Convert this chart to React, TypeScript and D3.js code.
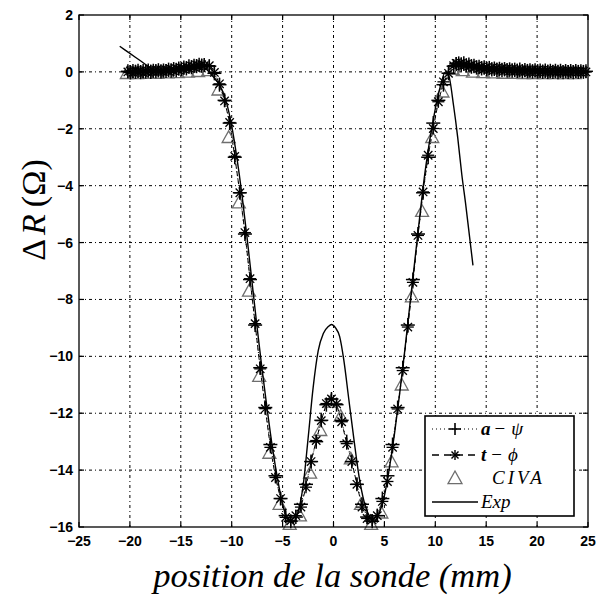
import React from "react";
import * as d3 from "d3";

// ---------- data ----------
const xTicks = [-25, -20, -15, -10, -5, 0, 5, 10, 15, 20, 25];
const yTicks = [2, 0, -2, -4, -6, -8, -10, -12, -14, -16];

// simulation (a-psi), left flat part, step 0.25 from -20.2
const simLeftStart = -20.2;
const aLeftFlat = [0.02, -0.02, 0.03, 0, 0.04, -0.01, 0.03, 0.01, 0.05, 0, 0.04, 0.02, 0.06, 0.01, 0.05, 0.03, 0.08, 0.04, 0.1, 0.06, 0.12, 0.1, 0.15, 0.12, 0.2, 0.16, 0.22, 0.2, 0.25, 0.22, 0.24];
const tLeftFlat = [0.0, 0.03, -0.01, 0.04, 0.0, 0.03, -0.02, 0.04, 0.01, 0.05, 0.01, 0.06, 0.02, 0.05, 0.02, 0.07, 0.03, 0.09, 0.05, 0.11, 0.08, 0.13, 0.11, 0.17, 0.14, 0.2, 0.18, 0.24, 0.21, 0.25, 0.22];
// dip part, step 0.5 from -12.2
const dipStart = -12.2;
const aDip = [0.2, -0.05, -0.45, -1.0, -1.8, -3.0, -4.25, -5.7, -7.3, -8.9, -10.4, -11.8, -13.1, -14.2, -15.0, -15.6, -15.8, -15.65, -15.2, -14.5, -13.7, -13.0, -12.25, -11.7, -11.5, -11.7, -12.25, -13.0, -13.7, -14.5, -15.2, -15.65, -15.8, -15.6, -15.0, -14.2, -13.1, -11.8, -10.4, -8.9, -7.3, -5.7, -4.25, -3.0, -1.8, -1.0, -0.45, -0.05, 0.2];
const tDip = [0.22, -0.02, -0.42, -1.02, -1.78, -2.97, -4.25, -5.65, -7.27, -8.85, -10.44, -11.84, -13.2, -14.26, -15.0, -15.66, -15.78, -15.6, -15.3, -14.6, -13.7, -12.96, -12.26, -11.66, -11.5, -11.67, -12.3, -13.07, -13.7, -14.5, -15.3, -15.7, -15.75, -15.6, -15.1, -14.4, -13.2, -11.85, -10.5, -8.97, -7.4, -5.75, -4.22, -2.93, -1.99, -1.05, -0.35, -0.05, 0.22];
// right flat part, step 0.25 from 12.05
const simRightStart = 12.05;
const aRightFlat = [0.28, 0.3, 0.25, 0.3, 0.22, 0.26, 0.18, 0.22, 0.15, 0.18, 0.12, 0.16, 0.1, 0.14, 0.08, 0.12, 0.07, 0.11, 0.06, 0.1, 0.05, 0.09, 0.04, 0.08, 0.03, 0.08, 0.02, 0.07, 0.02, 0.06, 0.01, 0.06, 0.01, 0.05, 0, 0.05, 0, 0.04, 0, 0.04, -0.01, 0.04, -0.01, 0.03, 0, 0.03, -0.01, 0.03, 0, 0.02, 0, 0.02];
const tRightFlat = [0.3, 0.26, 0.3, 0.24, 0.27, 0.2, 0.24, 0.16, 0.2, 0.13, 0.17, 0.11, 0.15, 0.09, 0.13, 0.07, 0.12, 0.06, 0.11, 0.05, 0.1, 0.04, 0.09, 0.03, 0.08, 0.03, 0.07, 0.02, 0.07, 0.01, 0.06, 0.01, 0.06, 0.0, 0.05, 0.0, 0.05, -0.01, 0.04, -0.01, 0.04, 0.0, 0.03, -0.01, 0.03, 0.0, 0.03, 0.0, 0.02, 0.0, 0.02, 0.0];

// CIVA, step 1 from -20.3
const civaStart = -20.3;
const civaY = [-0.05, -0.05, -0.04, -0.04, -0.03, -0.02, 0.0, 0.02, 0.05, -0.63, -2.3, -4.6, -7.7, -10.7, -13.4, -15.2, -15.9, -15.6, -14.1, -12.6, -11.6, -12.1, -13.6, -15.2, -15.9, -15.5, -13.7, -11.0, -7.9, -4.9, -2.3, -0.7, 0.1, 0.05, 0.0, -0.02, -0.03, -0.04, -0.04, -0.05, -0.05, -0.05, -0.05, -0.05, -0.05];

// experiment
const expX = [-21.0, -20, -19, -18, -17, -16, -15, -14, -13, -12.5, -12, -11.5, -11, -10.5, -10, -9.5, -9, -8.5, -8, -7.5, -7, -6.5, -6, -5.5, -5, -4.5, -4, -3.5, -3, -2.5, -2, -1.5, -1, -0.5, -0.2, 0.2, 0.6, 1.0, 1.5, 2.0, 2.5, 3.0, 3.5, 4.0, 4.5, 5.0, 5.5, 6.0, 6.5, 7.0, 7.5, 8.0, 8.5, 9.0, 9.5, 10.0, 10.5, 11.0, 11.3, 11.8, 12.2, 12.6, 13.0, 13.3, 13.7];
const expY = [0.9, 0.65, 0.4, 0.15, 0.02, 0, 0.02, 0.08, 0.15, 0.1, -0.1, -0.3, -0.6, -1.1, -1.9, -3.0, -4.3, -5.8, -7.4, -9.0, -10.5, -11.9, -13.2, -14.3, -15.2, -15.7, -15.85, -15.5, -14.6, -12.9, -11.1, -9.8, -9.2, -8.95, -8.88, -9.0, -9.3, -10.1, -11.5, -12.9, -14.2, -15.1, -15.6, -15.8, -15.5, -14.9, -13.9, -12.7, -11.3, -9.8, -8.2, -6.6, -5.0, -3.5, -2.3, -1.3, -0.5, 0.0, -0.1, -1.2, -2.3, -3.6, -4.7, -5.6, -6.8];

type P = [number, number];
const build = (left: number[], dip: number[], right: number[]): P[] => [
  ...left.map((v, i) => [simLeftStart + 0.25 * i, v] as P),
  ...dip.map((v, i) => [dipStart + 0.5 * i, v] as P),
  ...right.map((v, i) => [simRightStart + 0.25 * i, v] as P),
];
const aSeries = build(aLeftFlat, aDip, aRightFlat);
const tSeries = build(tLeftFlat, tDip, tRightFlat);
const civaSeries: P[] = civaY.map((v, i) => [civaStart + i, v]);
const expSeries: P[] = expX.map((x, i) => [x, expY[i]]);

// ---------- layout ----------
const W = 602, H = 603;
const L = 79, R = 588, T = 15, B = 527;
const x = d3.scaleLinear().domain([-25, 25]).range([L, R]);
const y = d3.scaleLinear().domain([-16, 2]).range([B, T]);

const tickFont = "'Liberation Sans Narrow', 'Arial Narrow', 'Liberation Sans', Arial, sans-serif";
const serif = "'Liberation Serif', 'Times New Roman', serif";

const plus = (cx: number, cy: number, s = 6, key?: any) => (
  <g key={key}>
    <line x1={cx - s} x2={cx + s} y1={cy} y2={cy} />
    <line x1={cx} x2={cx} y1={cy - s} y2={cy + s} />
  </g>
);
const star = (cx: number, cy: number, s = 5, key?: any) => (
  <g key={key}>
    <line x1={cx - s} x2={cx + s} y1={cy} y2={cy} />
    <line x1={cx - s * 0.7} x2={cx + s * 0.7} y1={cy - s * 0.7} y2={cy + s * 0.7} />
    <line x1={cx - s * 0.7} x2={cx + s * 0.7} y1={cy + s * 0.7} y2={cy - s * 0.7} />
    <line x1={cx} x2={cx} y1={cy - s} y2={cy + s} />
  </g>
);
const tri = (cx: number, cy: number, s = 6, key?: any) => (
  <path key={key} d={`M${cx},${cy - s}L${cx + s},${cy + s * 0.8}L${cx - s},${cy + s * 0.8}Z`} />
);

export default function App() {
  const lineSim = d3.line<P>().x((d) => x(d[0])).y((d) => y(d[1]));
  const lineExp = d3.line<P>().x((d) => x(d[0])).y((d) => y(d[1])).curve(d3.curveMonotoneX);
  const gridDash = "3,3,1,3";
  const tk = 5;
  const lgX = 425, lgY = 416, lgW = 149, lgH = 100;
  return (
    <svg width={W} height={H} style={{ position: "absolute", left: 0, top: 0, background: "#fff" }}>
      <rect x={0} y={0} width={W} height={H} fill="#fff" />
      {/* grid */}
      <g stroke="#000" strokeWidth={1} strokeDasharray={gridDash}>
        {xTicks.slice(1, -1).map((t) => (
          <line key={"gx" + t} x1={x(t)} x2={x(t)} y1={T} y2={B} />
        ))}
        {yTicks.slice(1, -1).map((t) => (
          <line key={"gy" + t} x1={L} x2={R} y1={y(t)} y2={y(t)} />
        ))}
      </g>
      {/* ticks */}
      <g stroke="#000" strokeWidth={1.2}>
        {xTicks.map((t) => (
          <g key={"tx" + t}>
            <line x1={x(t)} x2={x(t)} y1={B} y2={B - tk} />
            <line x1={x(t)} x2={x(t)} y1={T} y2={T + tk} />
          </g>
        ))}
        {yTicks.map((t) => (
          <g key={"ty" + t}>
            <line x1={L} x2={L + tk} y1={y(t)} y2={y(t)} />
            <line x1={R} x2={R - tk} y1={y(t)} y2={y(t)} />
          </g>
        ))}
      </g>
      {/* series */}
      <path d={lineSim(aSeries) || ""} fill="none" stroke="#000" strokeWidth={1} strokeDasharray="1,2.5" />
      <path d={lineSim(tSeries) || ""} fill="none" stroke="#000" strokeWidth={1} strokeDasharray="5,3" />
      <g fill="none" stroke="#6e6e6e" strokeWidth={1.3}>
        {civaSeries.map((d, i) => tri(x(d[0]), y(d[1]), 6.5, "c" + i))}
      </g>
      <g stroke="#000" strokeWidth={1.5}>
        {aSeries.map((d, i) => plus(x(d[0]), y(d[1]), 7, "a" + i))}
      </g>
      <g stroke="#000" strokeWidth={1.3}>
        {tSeries.map((d, i) => star(x(d[0]), y(d[1]), 6, "t" + i))}
      </g>
      <path d={lineExp(expSeries) || ""} fill="none" stroke="#000" strokeWidth={1.4} />
      {/* frame */}
      <rect x={L} y={T} width={R - L} height={B - T} fill="none" stroke="#000" strokeWidth={1.3} />
      {/* tick labels */}
      <g fontFamily={tickFont} fontWeight="bold" fontSize={14} fill="#000">
        {xTicks.map((t) => (
          <text key={"lx" + t} x={x(t)} y={B + 19} textAnchor="middle">
            {t < 0 ? "\u2212" + Math.abs(t) : String(t)}
          </text>
        ))}
        {yTicks.map((t) => (
          <text key={"ly" + t} x={L - 6} y={y(t) + 5} textAnchor="end">
            {t < 0 ? "\u2212" + Math.abs(t) : String(t)}
          </text>
        ))}
      </g>
      {/* axis labels */}
      <text x={(L + R) / 2 - 1} y={587} textAnchor="middle" fontFamily={serif} fontStyle="italic" fontSize={34.5}>
        position de la sonde (mm)
      </text>
      <text transform={`translate(45,210) rotate(-90)`} textAnchor="middle" fontFamily={serif} fontSize={34}>
        <tspan>Δ</tspan>
        <tspan fontStyle="italic" dx={4}>R</tspan>
        <tspan dx={7}>(Ω)</tspan>
      </text>
      {/* legend */}
      <rect x={lgX} y={lgY} width={lgW} height={lgH} fill="#fff" stroke="#000" strokeWidth={1.6} />
      <g>
        <line x1={432} x2={477} y1={429} y2={429} stroke="#000" strokeWidth={1.2} strokeDasharray="1,3" />
        <g stroke="#000" strokeWidth={1.6}>{plus(455, 429, 6)}</g>
        <text x={481} y={435} fontFamily={serif} fontSize={19}>
          <tspan fontWeight="bold" fontStyle="italic">a</tspan>
          <tspan dx={4}>−</tspan>
          <tspan dx={6} fontStyle="italic">ψ</tspan>
        </text>
        <line x1={432} x2={477} y1={455} y2={455} stroke="#000" strokeWidth={1.4} strokeDasharray="7,5" />
        <g stroke="#000" strokeWidth={1.4}>{star(455, 455, 5)}</g>
        <text x={481} y={461} fontFamily={serif} fontSize={19}>
          <tspan fontWeight="bold" fontStyle="italic">t</tspan>
          <tspan dx={5}>−</tspan>
          <tspan dx={6} fontStyle="italic">ϕ</tspan>
        </text>
        <g fill="none" stroke="#6e6e6e" strokeWidth={1.3}>{tri(455, 478, 7)}</g>
        <text x={492} y={484} fontFamily={serif} fontStyle="italic" fontSize={19} letterSpacing={3}>
          CIVA
        </text>
        <line x1={432} x2={478} y1={502} y2={502} stroke="#000" strokeWidth={1.4} />
        <text x={481} y={508} fontFamily={serif} fontStyle="italic" fontSize={19}>
          Exp
        </text>
      </g>
    </svg>
  );
}
